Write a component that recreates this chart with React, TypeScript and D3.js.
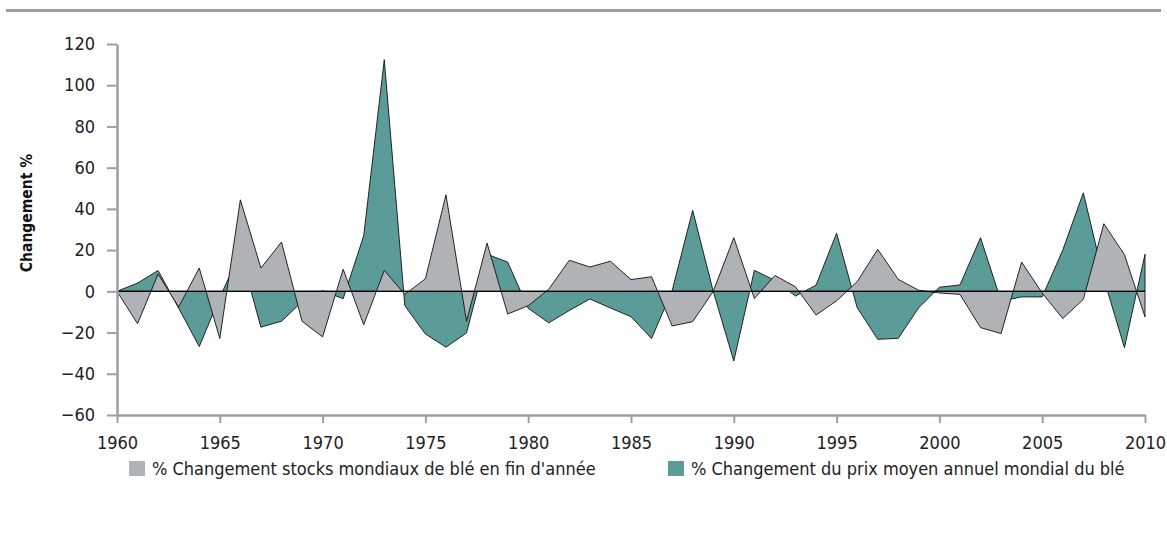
import { useEffect, useRef } from 'react';
import * as d3 from 'd3';

// années 1960 - 2010
const years = d3.range(1960, 2011);

// % changement stocks mondiaux de blé en fin d'année
const stocks = [
  0, -15.7, 8.4, -7.6, 11.3, -22.9, 44.4, 11.3, 23.9, -14.5,
  -22.1, 10.7, -16.2, 10.2, -1.5, 6.1, 46.8, -14.5, 23.4, -11.0,
  -7.0, 1.0, 15.1, 11.8, 14.6, 5.7, 7.1, -16.8, -14.7, 0,
  26.0, -3.5, 7.7, 2.2, -11.5, -4.6, 4.7, 20.4, 5.8, 0.5,
  -0.8, -1.5, -17.6, -20.5, 14.2, -0.8, -13.2, -3.9, 32.8, 17.8,
  -12.4,
];

// % changement du prix moyen annuel mondial du blé
const prices = [
  0, 4.0, 10.1, -8.2, -26.8, -3, 19, -17.4, -14.5, -5,
  0.3, -3.6, 27, 112.4, -7, -20.7, -27.1, -20.2, 18, 14.2,
  -8.2, -15.3, -9.3, -3.7, -8.1, -12.3, -22.9, 0.3, 39.3, 0,
  -33.8, 10.2, 5.3, -2.3, 3.0, 28.2, -7.9, -23.3, -22.8, -7.9,
  2.0, 3.1, 26.0, -4.7, -2.7, -2.7, 20.0, 47.8, 6, -27.3,
  18,
];

const yTicks = d3.range(-60, 121, 20);
const xTicks = d3.range(1960, 2011, 5);
const legendLabels = [
  "% Changement stocks mondiaux de blé en fin d'année",
  '% Changement du prix moyen annuel mondial du blé',
];

const W = 1167;
const H = 533;
const FONT = '"DejaVu Sans Condensed", "DejaVu Sans", sans-serif';
const GREY = '#b0b3b6';
const TEAL = '#5b9c98';
const AXIS = '#9d9fa2';

export default function App() {
  const ref = useRef<SVGSVGElement>(null);

  useEffect(() => {
    if (!ref.current) return;
    const svg = d3.select(ref.current);
    svg.selectAll('*').remove();

    const x = d3.scaleLinear().domain([1960, 2010]).range([117, 1145]);
    const y = d3.scaleLinear().domain([-60, 120]).range([415, 44]);

    // top rule
    svg.append('line')
      .attr('x1', 6).attr('x2', 1161)
      .attr('y1', 10.5).attr('y2', 10.5)
      .attr('stroke', AXIS).attr('stroke-width', 3);

    const area = (vals: number[]) =>
      d3.area<number>()
        .x((_, i) => x(years[i]))
        .y0(y(0))
        .y1((d) => y(d))(vals);

    // price first, stocks drawn over it
    svg.append('path')
      .attr('d', area(prices) as string)
      .attr('fill', TEAL)
      .attr('stroke', '#111')
      .attr('stroke-width', 0.9);

    svg.append('path')
      .attr('d', area(stocks) as string)
      .attr('fill', GREY)
      .attr('stroke', '#111')
      .attr('stroke-width', 0.9);

    // zero line
    svg.append('line')
      .attr('x1', x(1960)).attr('x2', x(2010))
      .attr('y1', y(0)).attr('y2', y(0))
      .attr('stroke', '#000').attr('stroke-width', 1.2);

    // y axis
    const gy = svg.append('g')
      .attr('transform', `translate(${x(1960)},0)`)
      .call(d3.axisLeft(y).tickValues(yTicks).tickSize(10).tickSizeOuter(0).tickPadding(12));
    gy.select('.domain').attr('stroke', AXIS).attr('stroke-width', 2.5);
    gy.selectAll('.tick line').attr('stroke', AXIS).attr('stroke-width', 2);
    gy.selectAll('.tick text')
      .attr('font-family', FONT).attr('font-stretch', 'condensed')
      .attr('font-size', 18).attr('fill', '#222');

    // x axis
    const gx = svg.append('g')
      .attr('transform', `translate(0,${y(-60)})`)
      .call(d3.axisBottom(x).tickValues(xTicks).tickFormat(d3.format('d')).tickSize(8).tickSizeOuter(0).tickPadding(13));
    gx.select('.domain').attr('stroke', AXIS).attr('stroke-width', 2.5);
    gx.selectAll('.tick line').attr('stroke', AXIS).attr('stroke-width', 2);
    gx.selectAll('.tick text')
      .attr('font-family', FONT).attr('font-stretch', 'condensed')
      .attr('font-size', 18).attr('fill', '#222');

    // y title
    svg.append('text')
      .attr('transform', 'translate(32,213) rotate(-90)')
      .attr('text-anchor', 'middle')
      .attr('font-family', FONT).attr('font-stretch', 'condensed')
      .attr('font-weight', 'bold')
      .attr('font-size', 15.5)
      .attr('fill', '#111')
      .text('Changement %');

    // legend
    const legendX = [129, 668];
    const legendColors = [GREY, TEAL];
    legendLabels.forEach((label, i) => {
      const g = svg.append('g').attr('transform', `translate(${legendX[i]},461)`);
      g.append('rect').attr('width', 16).attr('height', 15).attr('fill', legendColors[i]);
      g.append('text')
        .attr('x', 23).attr('y', 14)
        .attr('font-family', FONT).attr('font-stretch', 'condensed')
        .attr('font-size', 18).attr('fill', '#222')
        .text(label);
    });
  }, []);

  return (
    <svg
      ref={ref}
      width={W}
      height={H}
      style={{ position: 'absolute', left: 0, top: 0, background: '#fff' }}
    />
  );
}
